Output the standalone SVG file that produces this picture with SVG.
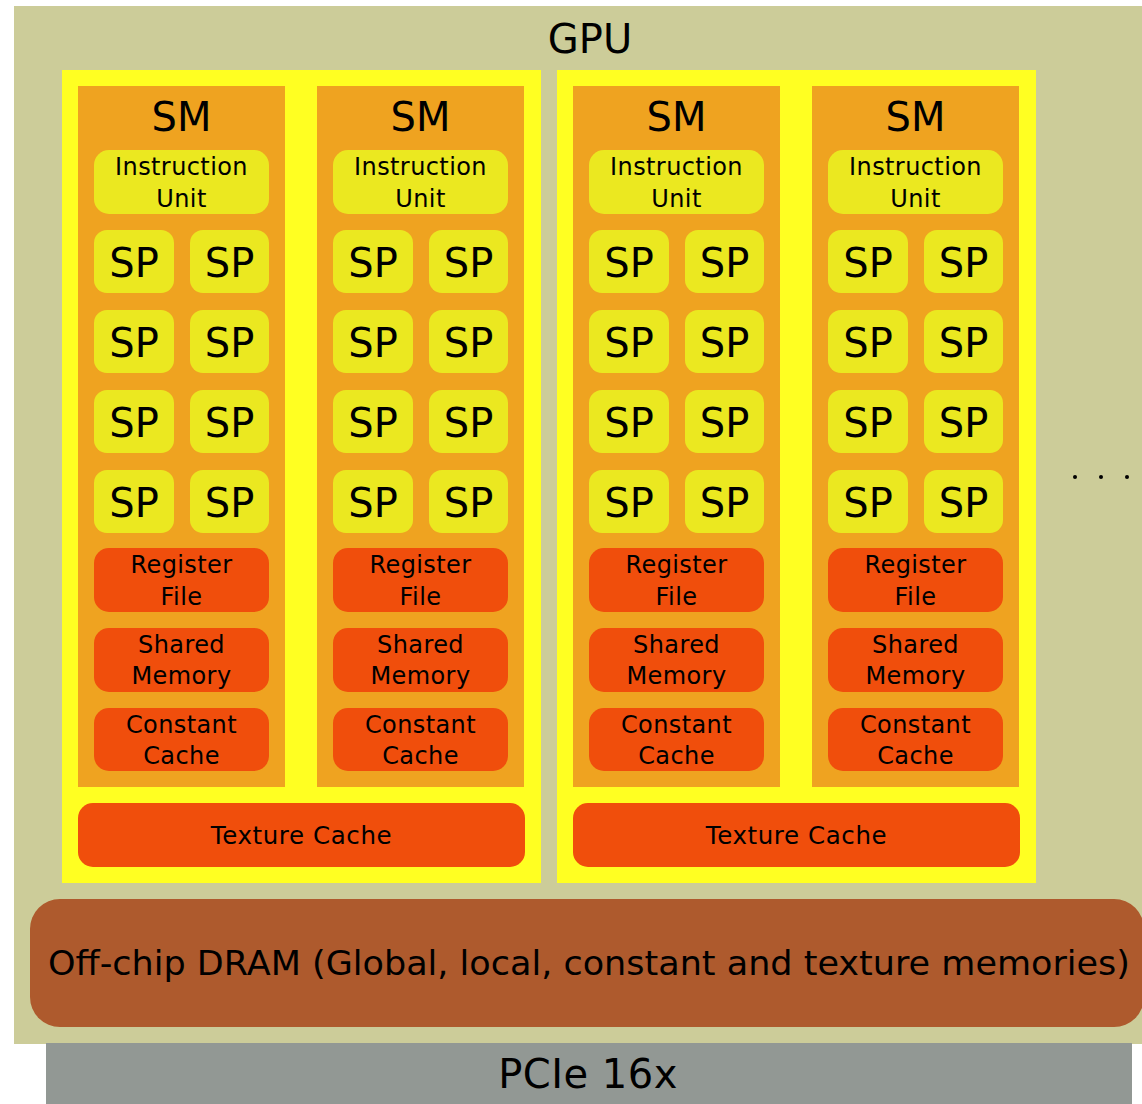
<svg xmlns="http://www.w3.org/2000/svg" width="1142" height="1104" viewBox="0 0 1142 1104">
  <defs>
    <style>
      text { font-family: "DejaVu Sans", "Liberation Sans", sans-serif; fill: #000; text-anchor: middle; }
      .gpu { fill: #cccc99; }
      .cluster { fill: #ffff22; }
      .sm { fill: #efa320; }
      .unit { fill: #ebe820; }
      .mem { fill: #f04e0c; }
      .dram { fill: #ae5a2d; }
      .pcie { fill: #929894; }
      .big { font-size: 40px; }
      .sp { font-size: 40px; }
      .small { font-size: 24px; letter-spacing: 0.4px; }
      .mid { font-size: 24.5px; letter-spacing: 0.6px; }
    </style>
    <!-- One streaming multiprocessor, drawn at local origin (0,0) -->
    <g id="smBlock">
      <rect class="sm" x="0" y="0" width="207" height="701"/>
      <text class="big" x="103.5" y="45">SM</text>
      <rect class="unit" x="16" y="64" width="175" height="64" rx="15"/>
      <text class="small" x="103.5" y="89">Instruction</text>
      <text class="small" x="103.5" y="121">Unit</text>
      <g>
        <rect class="unit" x="16" y="144" width="80" height="63" rx="13"/>
        <rect class="unit" x="112" y="144" width="79" height="63" rx="13"/>
        <text class="sp" x="56" y="191">SP</text>
        <text class="sp" x="151.5" y="191">SP</text>
        <rect class="unit" x="16" y="224" width="80" height="63" rx="13"/>
        <rect class="unit" x="112" y="224" width="79" height="63" rx="13"/>
        <text class="sp" x="56" y="271">SP</text>
        <text class="sp" x="151.5" y="271">SP</text>
        <rect class="unit" x="16" y="304" width="80" height="63" rx="13"/>
        <rect class="unit" x="112" y="304" width="79" height="63" rx="13"/>
        <text class="sp" x="56" y="351">SP</text>
        <text class="sp" x="151.5" y="351">SP</text>
        <rect class="unit" x="16" y="384" width="80" height="63" rx="13"/>
        <rect class="unit" x="112" y="384" width="79" height="63" rx="13"/>
        <text class="sp" x="56" y="431">SP</text>
        <text class="sp" x="151.5" y="431">SP</text>
      </g>
      <rect class="mem" x="16" y="462" width="175" height="64" rx="15"/>
      <text class="small" x="103.5" y="487">Register</text>
      <text class="small" x="103.5" y="519">File</text>
      <rect class="mem" x="16" y="542" width="175" height="64" rx="15"/>
      <text class="small" x="103.5" y="567">Shared</text>
      <text class="small" x="103.5" y="598">Memory</text>
      <rect class="mem" x="16" y="622" width="175" height="63" rx="15"/>
      <text class="small" x="103.5" y="647">Constant</text>
      <text class="small" x="103.5" y="678">Cache</text>
    </g>
  </defs>

  <!-- GPU package -->
  <g id="gpu">
    <rect class="gpu" x="14" y="6" width="1130" height="1038"/>
    <text class="big" x="590" y="53">GPU</text>
  </g>

  <!-- Cluster 1: two SMs sharing a texture cache -->
  <g id="cluster1">
    <rect class="cluster" x="62" y="70" width="479" height="813"/>
    <use id="sm1" href="#smBlock" x="78" y="86"/>
    <use id="sm2" href="#smBlock" x="317" y="86"/>
    <g id="texcache1">
      <rect class="mem" x="78" y="803" width="447" height="64" rx="15"/>
      <text class="mid" x="301.5" y="844">Texture Cache</text>
    </g>
  </g>

  <!-- Cluster 2 -->
  <g id="cluster2">
    <rect class="cluster" x="557" y="70" width="479" height="813"/>
    <use id="sm3" href="#smBlock" x="573" y="86"/>
    <use id="sm4" href="#smBlock" x="812" y="86"/>
    <g id="texcache2">
      <rect class="mem" x="573" y="803" width="447" height="64" rx="15"/>
      <text class="mid" x="796.5" y="844">Texture Cache</text>
    </g>
  </g>

  <!-- More clusters follow -->
  <g id="ellipsis" fill="#000">
    <circle cx="1075" cy="477" r="2"/>
    <circle cx="1101" cy="477" r="2"/>
    <circle cx="1127" cy="477" r="2"/>
  </g>

  <!-- Device memory -->
  <g id="dram">
    <rect class="dram" x="30" y="899" width="1114" height="128" rx="30"/>
    <text x="589" y="975" font-size="34" textLength="1082" lengthAdjust="spacingAndGlyphs">Off-chip DRAM (Global, local, constant and texture memories)</text>
  </g>

  <!-- Host bus -->
  <g id="pcie">
    <rect class="pcie" x="46" y="1043" width="1086" height="61"/>
    <text class="big" x="588" y="1088" letter-spacing="0.5">PCIe 16x</text>
  </g>

  <g id="connectors"/>
</svg>
